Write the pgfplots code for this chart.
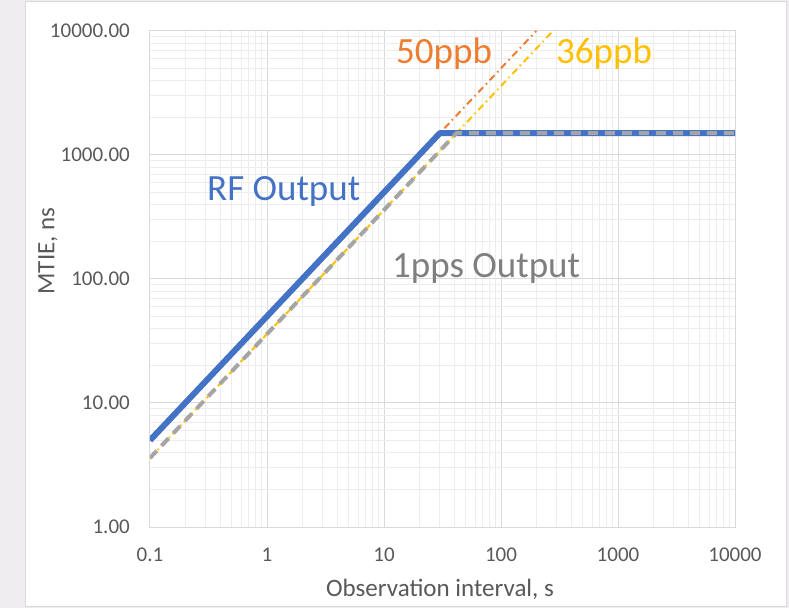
\documentclass[border=0pt]{standalone}
\usepackage{pgfplots}
\pgfplotsset{compat=1.18}
\usepackage{fontspec}
\setmainfont{Carlito}
\definecolor{rfblue}{HTML}{4472C4}
\definecolor{ppsgray}{HTML}{A5A5A5}
\definecolor{orng}{HTML}{ED7D31}
\definecolor{yelw}{HTML}{FFC000}
\definecolor{txtgray}{HTML}{595959}
\definecolor{annogray}{HTML}{7F7F7F}
\definecolor{majgrid}{HTML}{D9D9D9}
\definecolor{mingrid}{HTML}{EDEDED}
\definecolor{bggray}{HTML}{EFEDEF}
\begin{document}
\begin{tikzpicture}[x=1pt,y=1pt]
\fill[bggray] (0,0) rectangle (789,608);
\filldraw[fill=white, draw=majgrid, line width=1pt] (25,2) rectangle (786,606);
\begin{axis}[
  at={(150pt,81pt)}, anchor=south west,
  scale only axis, width=585pt, height=496pt,
  xmode=log, ymode=log,
  xmin=0.1, xmax=10000, ymin=1, ymax=10000,
  xtick={0.1,1,10,100,1000,10000},
  xticklabels={0.1,1,10,100,1000,10000},
  ytick={1,10,100,1000,10000},
  yticklabels={1.00,10.00,100.00,1000.00,10000.00},
  grid=both,
  major grid style={draw=majgrid, line width=1pt},
  minor grid style={draw=mingrid, line width=1pt},
  axis line style={draw=majgrid, line width=1pt},
  major tick length=0pt, minor tick length=0pt,
  tick style={draw=none},
  /pgf/number format/assume math mode=true,
  xticklabel style={font=\fontsize{21}{24}\selectfont, text=txtgray, inner sep=0pt, anchor=center, yshift=-28pt},
  yticklabel style={font=\fontsize{21}{24}\selectfont, text=txtgray, inner sep=0pt, anchor=east, xshift=-20pt},
]
\addplot[orng, line width=2pt, dash pattern=on 7pt off 4pt on 1.5pt off 4pt] coordinates {(0.1,5) (200,10000)};
\addplot[yelw, line width=2pt, dash pattern=on 7pt off 4pt on 1.5pt off 4pt] coordinates {(0.1,3.6) (277.78,10000)};
\addplot[rfblue, line width=6pt, line join=round] coordinates {(0.1,5) (30,1500) (10000,1500)};
\addplot[ppsgray, line width=4pt, dash pattern=on 10pt off 7pt] coordinates {(0.1,3.6) (41.667,1500) (10000,1500)};
\end{axis}
\node[anchor=base west, inner sep=0pt, text=rfblue, font=\fontsize{37}{40}\selectfont] at (207,407) {RF Output};
\node[anchor=base west, inner sep=0pt, text=orng, font=\fontsize{37}{40}\selectfont] at (396,544) {50ppb};
\node[anchor=base west, inner sep=0pt, text=yelw, font=\fontsize{37}{40}\selectfont] at (556,544) {36ppb};
\node[anchor=base west, inner sep=0pt, text=annogray, font=\fontsize{37}{40}\selectfont] at (392,330) {1pps Output};
\node[rotate=90, inner sep=0pt, text=txtgray, font=\fontsize{25}{28}\selectfont] at (48,357) {MTIE, ns};
\node[inner sep=0pt, text=txtgray, font=\fontsize{25}{28}\selectfont] at (440,19) {Observation interval, s};
\pgfresetboundingbox
\useasboundingbox (0,0) rectangle (789,608);
\end{tikzpicture}
\end{document}
